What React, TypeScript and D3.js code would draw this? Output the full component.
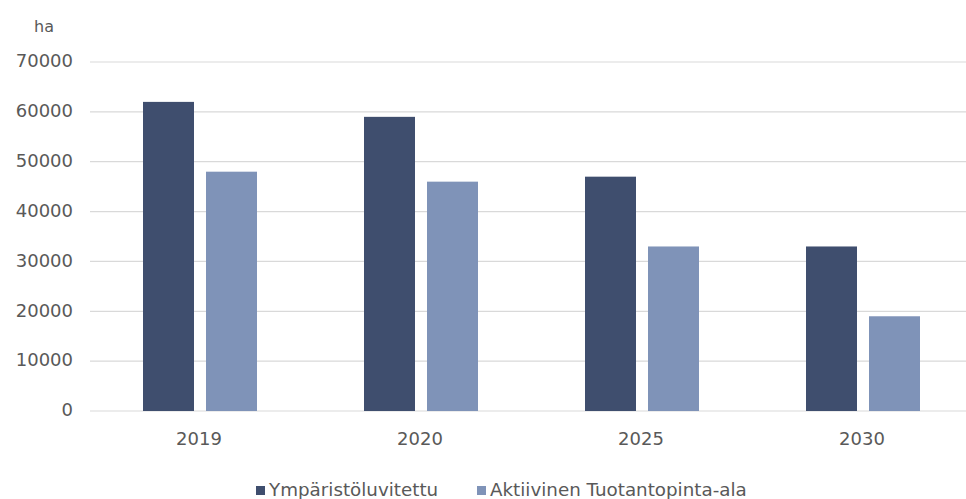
import React from "react";
import * as d3 from "d3";

const categories = ["2019", "2020", "2025", "2030"];
const seriesNames = ["Ympäristöluvitettu", "Aktiivinen Tuotantopinta-ala"];
const ymparistoluvitettu = [62000, 59000, 47000, 33000];
const aktiivinen = [48000, 46000, 33000, 19000];
const yTicks = [0, 10000, 20000, 30000, 40000, 50000, 60000, 70000];
const colors = ["#3f4e6e", "#7f93b8"];

export default function App() {
  const W = 966, H = 499;
  const plotL = 89.5, plotR = 973.5, top = 62, bottom = 411;
  const x = d3.scaleBand<string>().domain(categories).range([plotL, plotR]);
  const y = d3.scaleLinear().domain([0, 70000]).range([bottom, top]);
  const barW = 51, gap = 12;
  const series = [ymparistoluvitettu, aktiivinen];
  const font = "'DejaVu Sans', Verdana, sans-serif";
  const textColor = "#595959";
  return (
    <svg width={W} height={H} style={{ position: "absolute", left: 0, top: 0, background: "#fff" }} fontFamily={font}>
      <text x={44} y={32} fontSize={16} fill={textColor} textAnchor="middle">ha</text>
      {yTicks.map((t) => (
        <g key={t}>
          <line x1={90} x2={W} y1={y(t)} y2={y(t)} stroke="#d9d9d9" strokeWidth={1.2} />
          <text x={73} y={y(t) - 1} dy="0.35em" fontSize={18} fill={textColor} textAnchor="end">{t}</text>
        </g>
      ))}
      {categories.map((c, i) => {
        const cx = (x(c) as number) + x.bandwidth() / 2;
        return (
          <g key={c}>
            {series.map((s, k) => {
              const bx = k === 0 ? cx - gap / 2 - barW : cx + gap / 2;
              return (
                <rect key={k} x={bx} y={y(s[i])} width={barW} height={y(0) - y(s[i])} fill={colors[k]} />
              );
            })}
            <text x={cx - 1} y={439} dy="0.35em" fontSize={18} fill={textColor} textAnchor="middle">{c}</text>
          </g>
        );
      })}
      <g>
        <rect x={256} y={486} width={9} height={9} fill={colors[0]} />
        <text x={269} y={490} dy="0.35em" fontSize={18.3} fill={textColor}>{seriesNames[0]}</text>
        <rect x={477} y={486} width={9} height={9} fill={colors[1]} />
        <text x={490} y={490} dy="0.35em" fontSize={18.3} fill={textColor}>{seriesNames[1]}</text>
      </g>
    </svg>
  );
}
